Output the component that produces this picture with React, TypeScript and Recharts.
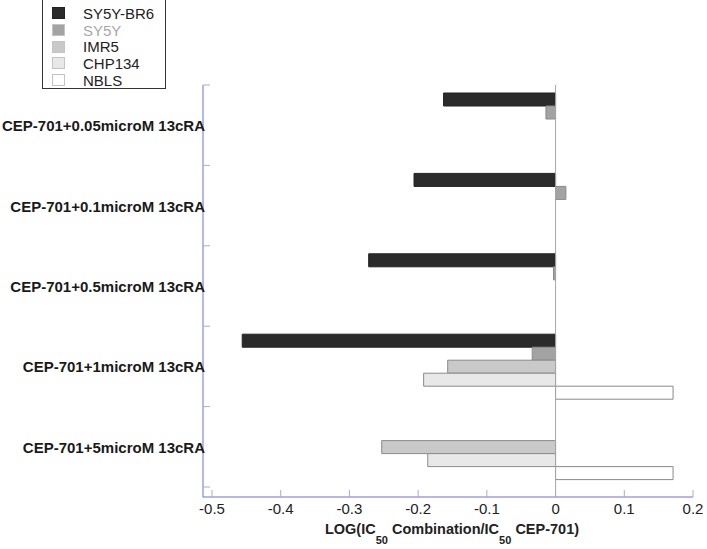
import React from "react";
import { BarChart, Bar, XAxis, YAxis, ReferenceLine, Legend, Label } from "recharts";

const CATEGORIES = [
  "CEP-701+0.05microM 13cRA",
  "CEP-701+0.1microM 13cRA",
  "CEP-701+0.5microM 13cRA",
  "CEP-701+1microM 13cRA",
  "CEP-701+5microM 13cRA",
];

const SERIES_NAMES = ["SY5Y-BR6", "SY5Y", "IMR5", "CHP134", "NBLS"];

const SY5Y_BR6 = [-0.163, -0.206, -0.272, -0.456, null];
const SY5Y = [-0.014, 0.015, -0.003, -0.034, null];
const IMR5 = [null, null, null, -0.157, -0.253];
const CHP134 = [null, null, null, -0.192, -0.186];
const NBLS = [null, null, null, 0.171, 0.171];

const X_TICKS = [-0.5, -0.4, -0.3, -0.2, -0.1, 0, 0.1, 0.2];

const COLORS = ["#2b2b2b", "#a3a3a3", "#c9c9c9", "#e8e8e8", "#ffffff"];
const STROKES = ["#222222", "#8a8a8a", "#8a8a8a", "#8a8a8a", "#8a8a8a"];
const LEGEND_TEXT = ["#222222", "#a8a8a8", "#222222", "#222222", "#222222"];
const AXIS = "#6f6fd9";
const TICK = "#a8a8e0";
const FONT = "'Liberation Sans', Arial, sans-serif";

const VALUES = [SY5Y_BR6, SY5Y, IMR5, CHP134, NBLS];

const data = CATEGORIES.map((name, i) => {
  const row: any = { name };
  SERIES_NAMES.forEach((s, j) => {
    row[s] = VALUES[j][i];
  });
  return row;
});

// tick marks sit on the band edges, labels in the middle of the band
const YTick = ({ x, y, payload, index, visibleTicksCount }: any) => {
  const half = payload && payload.offset ? payload.offset : 0;
  return (
    <g>
      <line x1={x} x2={x + 7} y1={y - half} y2={y - half} stroke={TICK} />
      {index === visibleTicksCount - 1 && (
        <line x1={x} x2={x + 7} y1={y + half} y2={y + half} stroke={TICK} />
      )}
      <text
        x={x + 2}
        y={y + 6}
        textAnchor="end"
        fontFamily={FONT}
        fontWeight="bold"
        fontSize={15}
        fill="#1a1a1a"
      >
        {payload.value}
      </text>
    </g>
  );
};

const XTick = ({ x, y, payload }: any) => (
  <g>
    <line x1={x} x2={x} y1={y - 7} y2={y} stroke={TICK} />
    <text
      x={x}
      y={y + 17}
      textAnchor="middle"
      fontFamily={FONT}
      fontSize={15}
      fill="#222"
    >
      {payload.value}
    </text>
  </g>
);

const XLabel = ({ viewBox }: any) => {
  const cx = viewBox.x + viewBox.width / 2 + 4;
  return (
    <text
      x={cx}
      y={viewBox.y + 37}
      textAnchor="middle"
      fontFamily={FONT}
      fontWeight="bold"
      fontSize={14.5}
      fill="#222"
    >
      LOG(IC
      <tspan fontSize={11} dy={10}>50</tspan>
      <tspan dy={-10}> Combination/IC</tspan>
      <tspan fontSize={11} dy={10}>50</tspan>
      <tspan dy={-10}> CEP-701)</tspan>
    </text>
  );
};

const LegendBox = () => (
  <div
    style={{
      border: "1px solid #333",
      background: "#fff",
      width: 124,
      height: 90,
      boxSizing: "border-box",
      padding: "5px 0 0 9px",
      fontFamily: FONT,
    }}
  >
    {SERIES_NAMES.map((n, i) => (
      <div
        key={n}
        style={{
          display: "flex",
          alignItems: "center",
          height: 16.7,
          fontSize: 15,
          color: LEGEND_TEXT[i],
        }}
      >
        <span
          style={{
            display: "inline-block",
            width: 13,
            height: 12,
            boxSizing: "border-box",
            background: COLORS[i],
            border: `1px solid ${i === 0 ? "#222" : "#c4c4c4"}`,
            marginRight: 18,
          }}
        />
        {n}
      </div>
    ))}
  </div>
);

export default function App() {
  return (
    <div style={{ position: "absolute", left: 0, top: 0 }}>
      <BarChart
        width={707}
        height={549}
        data={data}
        layout="vertical"
        margin={{ top: 85, right: 14, bottom: 0, left: 0 }}
        barCategoryGap={8}
        barGap={0}
      >
        <XAxis
          type="number"
          domain={[-0.5, 0.2]}
          ticks={X_TICKS}
          padding={{ left: 9, right: 0 }}
          height={52}
          axisLine={{ stroke: AXIS }}
          tickLine={false}
          tickSize={0}
          tickMargin={0}
          tick={<XTick />}
          interval={0}
          allowDataOverflow
        >
          <Label content={<XLabel />} />
        </XAxis>
        <YAxis
          type="category"
          dataKey="name"
          width={203}
          padding={{ top: 0, bottom: 10 }}
          axisLine={{ stroke: AXIS }}
          tickLine={false}
          tickSize={0}
          tickMargin={0}
          tick={<YTick />}
          interval={0}
        />
        <ReferenceLine x={0} stroke="#a6a6a6" />
        {SERIES_NAMES.map((s, i) => (
          <Bar
            key={s}
            dataKey={s}
            fill={COLORS[i]}
            stroke={STROKES[i]}
            strokeWidth={1}
            isAnimationActive={false}
          />
        ))}
        <Legend
          layout="vertical"
          align="center"
          verticalAlign="middle"
          wrapperStyle={{ left: 42, top: -1, width: 124 }}
          content={<LegendBox />}
        />
      </BarChart>
    </div>
  );
}
